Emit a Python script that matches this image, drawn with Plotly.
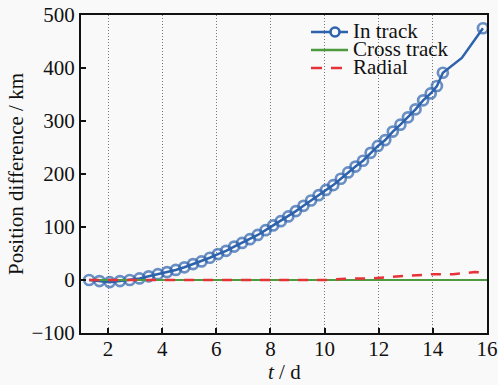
import plotly.graph_objects as go

t_in = [1.3, 1.68, 2.06, 2.44, 2.8, 3.16, 3.5, 3.84, 4.18, 4.5, 4.82, 5.14, 5.45, 5.76,
        6.06, 6.36, 6.66, 6.95, 7.24, 7.53, 7.82, 8.1, 8.38, 8.66, 8.94, 9.22, 9.5, 9.78,
        10.05, 10.32, 10.6, 10.87, 11.14, 11.42, 11.7, 11.97, 12.24, 12.52, 12.8, 13.08,
        13.36, 13.64, 13.92, 14.15, 14.37, 15.07, 15.85]
in_track = [0, -2, -4, -2, 0, 3, 7, 11, 15, 19, 24, 30, 35, 42,
            49, 55, 63, 70, 77, 85, 94, 103, 111, 120, 130, 140, 150, 160,
            170, 179, 191, 203, 214, 225, 240, 253, 264, 280, 293, 307,
            322, 339, 352, 366, 391, 419, 475]
marker_shown = [1] * 45 + [0, 1]

t_cross = [1.3, 16.0]
cross_track = [0, 0]

t_rad = [1.3, 3.0, 5.0, 7.0, 8.0, 9.35, 10.1, 10.9, 11.7, 12.5, 13.3, 14.0, 14.75, 15.55, 15.85]
radial = [0, 0, 0, 0, 0, 1, 0, 3, 3, 6, 9, 11, 11, 15, 14]

x_ticks = [2, 4, 6, 8, 10, 12, 14, 16]
y_ticks = [-100, 0, 100, 200, 300, 400, 500]
legend_names = ["In track", "Cross track", "Radial"]
x_title = "<i>t</i> / d"
y_title = "Position difference / km"

font = "Liberation Serif, Times New Roman, serif"
blue = "#2d62ac"
green = "#4e9a3e"
red = "#e8323a"
bg = "#f9f9f9"

W, H = 498, 385
L, R, T, B = 81, 11, 15, 52
PW, PH = W - L - R, H - T - B


def px(xp):
    return (xp - L) / PW


def py(yp):
    return (H - B - yp) / PH


fig = go.Figure()
fig.add_trace(go.Scatter(
    x=t_in, y=in_track, mode="lines+markers", name=legend_names[0], showlegend=False,
    line=dict(color=blue, width=2.5),
    marker=dict(symbol="circle-open", size=[10 if m else 0 for m in marker_shown],
                line=dict(color=blue, width=2.7), color=blue),
))
fig.add_trace(go.Scatter(
    x=t_cross, y=cross_track, mode="lines", name=legend_names[1], showlegend=False,
    line=dict(color=green, width=2),
))
fig.add_trace(go.Scatter(
    x=t_rad, y=radial, mode="lines", name=legend_names[2], showlegend=False,
    line=dict(color=red, width=2.5, dash="10px,9px"),
))

# legend drawn as text + sample lines in the top right corner
rows_y = [32, 50, 68]
shapes = []
shapes.append(dict(type="line", xref="paper", yref="paper", x0=px(311), x1=px(348),
                   y0=py(rows_y[0]), y1=py(rows_y[0]), line=dict(color=blue, width=2.5)))
shapes.append(dict(type="circle", xref="paper", yref="paper", xsizemode="pixel", ysizemode="pixel",
                   xanchor=px(335), yanchor=py(rows_y[0]), x0=-4.5, x1=4.5, y0=-4.5, y1=4.5,
                   fillcolor=bg, line=dict(color=blue, width=2.6)))
shapes.append(dict(type="line", xref="paper", yref="paper", x0=px(311), x1=px(348),
                   y0=py(rows_y[1]), y1=py(rows_y[1]), line=dict(color=green, width=2.5)))
shapes.append(dict(type="line", xref="paper", yref="paper", x0=px(311), x1=px(348),
                   y0=py(rows_y[2]), y1=py(rows_y[2]), line=dict(color=red, width=2.5, dash="11px,9px")))
annotations = []
for name, yy in zip(legend_names, rows_y):
    annotations.append(dict(text=name, xref="paper", yref="paper", x=px(351), y=py(yy - 1),
                            xanchor="left", yanchor="middle", showarrow=False,
                            font=dict(size=21, family=font, color="#111")))
annotations.append(dict(text=x_title, xref="paper", yref="paper", x=0.5, y=py(372),
                        xanchor="center", yanchor="middle", showarrow=False,
                        font=dict(size=21, family=font, color="#111")))

fig.update_layout(
    width=W, height=H,
    margin=dict(l=L, r=R, t=T, b=B),
    paper_bgcolor=bg, plot_bgcolor=bg,
    font=dict(family=font, size=21, color="#111"),
    showlegend=False,
    shapes=shapes, annotations=annotations,
    xaxis=dict(range=[1, 16], tickvals=x_ticks, ticks="inside", ticklen=5, tickwidth=1.5,
               tickcolor="#111", showline=True, linecolor="#111", linewidth=2, mirror=True,
               showgrid=True, gridcolor="#777", griddash="1px,2px", gridwidth=1,
               zeroline=False, automargin=False, ticklabelstandoff=-4),
    yaxis=dict(range=[-100, 500], tickvals=y_ticks, ticks="inside", ticklen=5, tickwidth=1.5,
               tickcolor="#111", showline=True, linecolor="#111", linewidth=2, mirror=True,
               showgrid=False, zeroline=False, automargin=False,
               title=dict(text=y_title, standoff=2, font=dict(size=21))),
)

fig.write_html("out.html", config={"displayModeBar": False},
               post_script="document.body.style.margin='0';document.body.style.background='%s';" % bg)
